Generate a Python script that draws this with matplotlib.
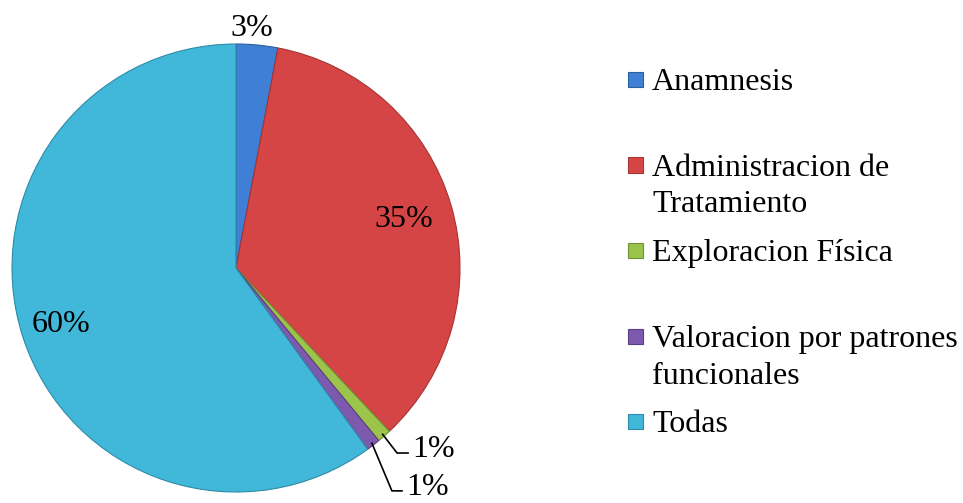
import numpy as np
import matplotlib
matplotlib.use("Agg")
import matplotlib.pyplot as plt
from matplotlib.patches import Rectangle

categories = ["Anamnesis", "Administracion de\nTratamiento", "Exploracion Física",
              "Valoracion por patrones\nfuncionales", "Todas"]
values = [3, 35, 1, 1, 60]
pct_labels = ["3%", "35%", "1%", "1%", "60%"]
colors = ["#3F7FD6", "#D64545", "#9CC34A", "#7E5AAE", "#41B8DA"]
edges = ["#2E5E9E", "#A53434", "#6F8F34", "#5A3F80", "#2F8AA6"]

W, H = 963, 503
fig = plt.figure(figsize=(W / 100, H / 100), dpi=100)
plt.rcParams['font.family'] = ['Liberation Serif', 'DejaVu Serif']

cx, cy, R = 236, 268, 224
ax = fig.add_axes([(cx - R) / W, (H - cy - R) / H, 2 * R / W, 2 * R / H])
wedges, _ = ax.pie(values, colors=colors, startangle=90, counterclock=False,
                   radius=1, wedgeprops=dict(linewidth=0.8))
for w, ec in zip(wedges, edges):
    w.set_edgecolor(ec)
ax.set_xlim(-1, 1)
ax.set_ylim(-1, 1)
ax.set_aspect('equal')
ax.axis('off')

fs = 23
total = sum(values)
cum = np.cumsum([0] + values)
mids = [90 - (cum[i] + values[i] / 2) / total * 360 for i in range(len(values))]

# inside / outside labels along mid angle
radial = {0: 1.075, 1: 0.78, 4: 0.82}
for i, r in radial.items():
    a = np.deg2rad(mids[i])
    ax.text(r * np.cos(a) - (0.03 if i == 0 else 0), r * np.sin(a), pct_labels[i],
            fontsize=fs, ha='center', va='center', clip_on=False)

# small slices with leader lines
leaders = {2: (0.99, (0.719, -0.826), 0.768),
           3: (0.99, (0.696, -0.995), 0.741)}
for i, (r0, (ex, ey), hx) in leaders.items():
    a = np.deg2rad(mids[i])
    sx, sy = r0 * np.cos(a), r0 * np.sin(a)
    ax.plot([sx, ex, hx], [sy, ey, ey], color='black', lw=1.2, clip_on=False)
    ax.text(hx + 0.02, ey - 4 / R, pct_labels[i], fontsize=fs,
            ha='left', va='baseline', clip_on=False)

# legend
base0, step, line_h = 90, 85.5, 37
for i, (lab, c, ec) in enumerate(zip(categories, colors, edges)):
    yb = base0 + i * step
    fig.patches.append(Rectangle((628 / W, (H - yb + 3) / H), 15 / W, 15 / H,
                                 transform=fig.transFigure, facecolor=c,
                                 edgecolor=ec, lw=0.8))
    for k, line in enumerate(lab.split("\n")):
        fig.text(652 / W, (H - yb - k * line_h) / H, line, fontsize=fs,
                 ha='left', va='baseline')

fig.savefig("out.png", dpi=100)
